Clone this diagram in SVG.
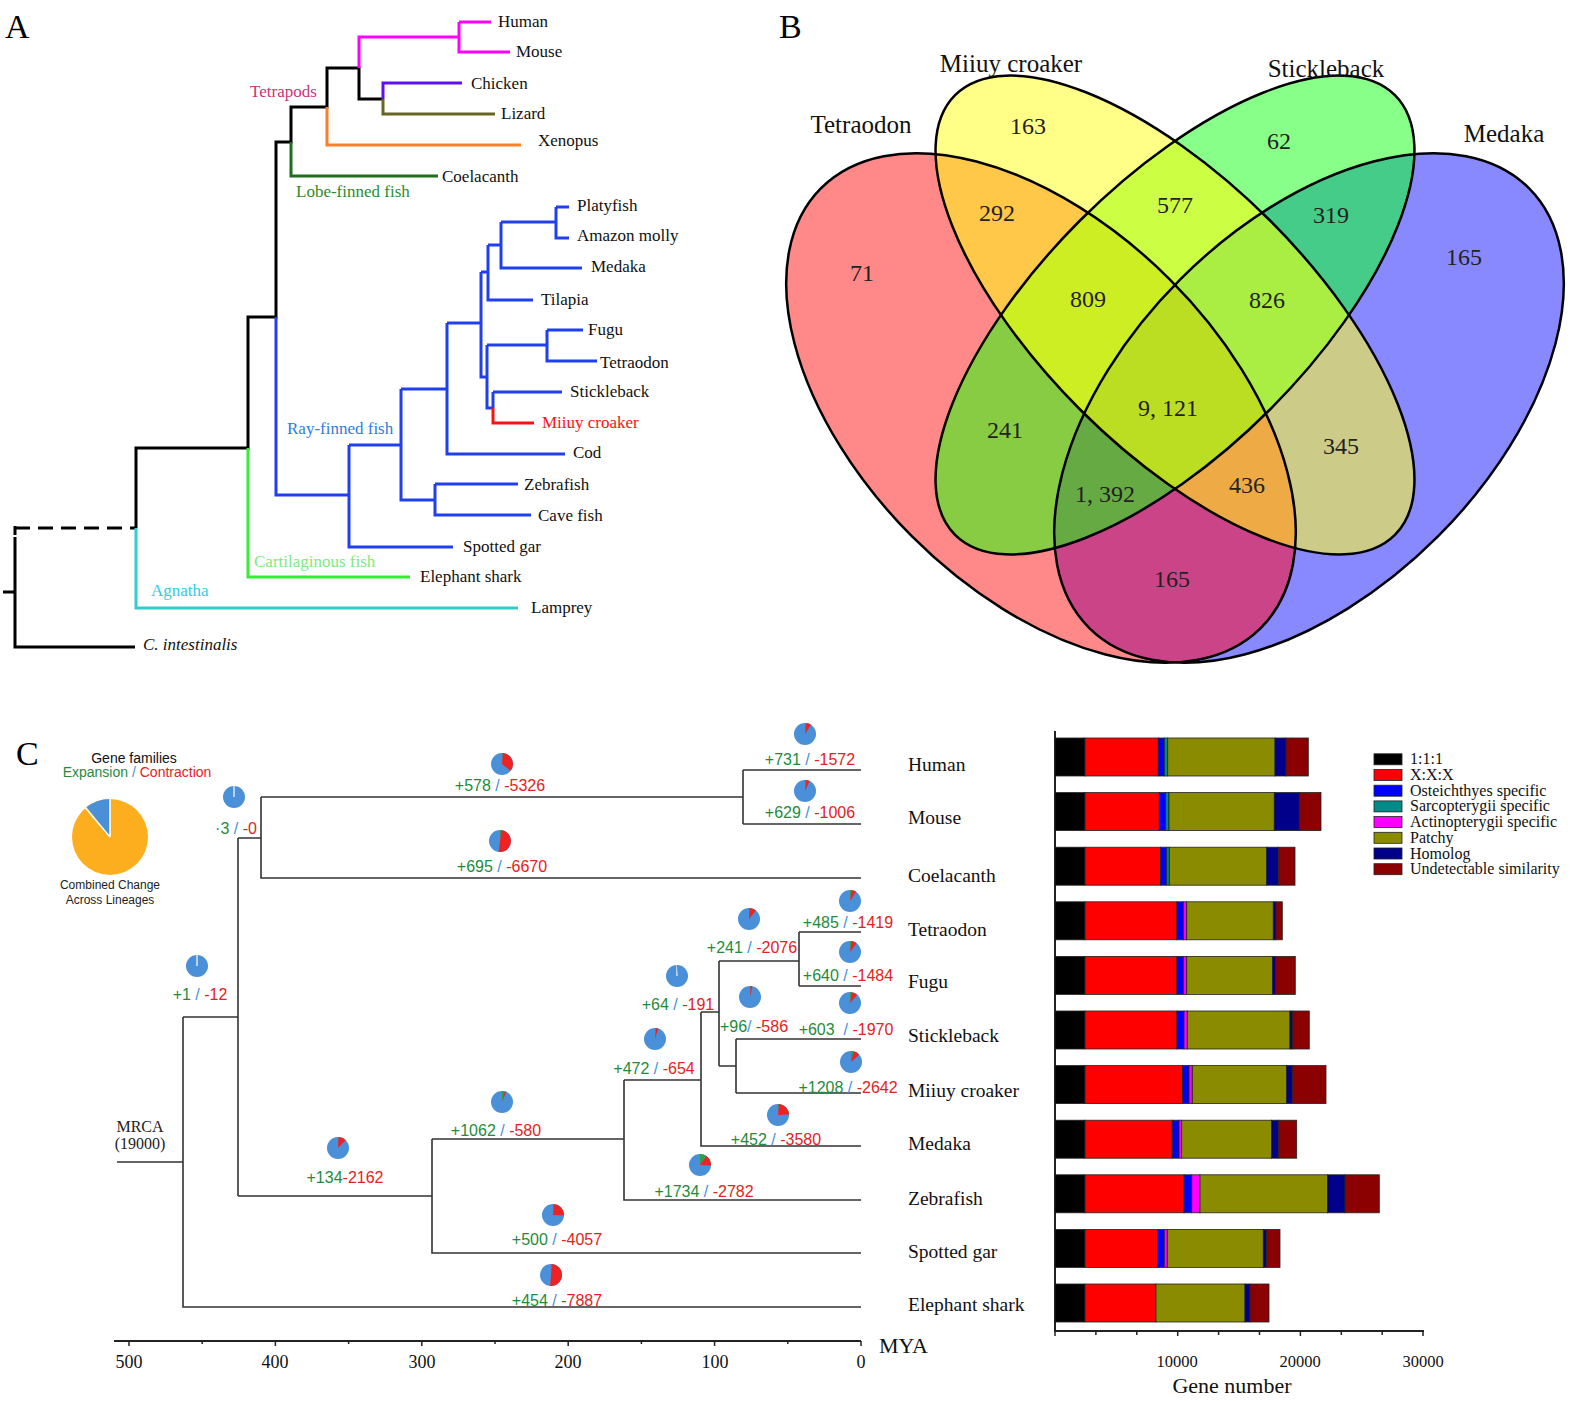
<svg xmlns="http://www.w3.org/2000/svg" width="1575" height="1401" viewBox="0 0 1575 1401">
<style>
.sr{font-family:"Liberation Serif","Times New Roman",serif}
.ss{font-family:"Liberation Sans",Arial,sans-serif}
.tl{fill:none;stroke:#333;stroke-width:1.6}
.vo{fill:none;stroke:#000;stroke-width:2.5}
.pb{fill:#4A90D9}
.pg{fill:none;stroke:#2E9E4A;stroke-width:11}
.pr{fill:none;stroke:#EE2222;stroke-width:11}
.pw{stroke:#fff;stroke-width:1.2}
.an{font-family:"Liberation Sans",Arial,sans-serif;font-size:16px;text-anchor:middle}
.g{fill:#1E8C3C}.sl{fill:#4A90D9}.rd{fill:#E52222}
.lf{font-family:"Liberation Serif","Times New Roman",serif;font-size:19.5px;fill:#111}
.la{font-family:"Liberation Serif","Times New Roman",serif;font-size:17px;fill:#111}
.vn{font-family:"Liberation Serif","Times New Roman",serif;font-size:24px;text-anchor:middle;fill:#222}
.vs{font-family:"Liberation Serif","Times New Roman",serif;font-size:25px;text-anchor:middle;fill:#111}
.seg{stroke:#222;stroke-width:0.8}
.K{fill:#000}.R{fill:#FF0000}.B{fill:#0000FF}.T{fill:#008B8B}.M{fill:#FF00FF}.O{fill:#8B8B00}.N{fill:#00008B}.D{fill:#8B0000}
.ax{font-family:"Liberation Serif","Times New Roman",serif;font-size:18px;text-anchor:middle;fill:#111}
.lg{font-family:"Liberation Serif","Times New Roman",serif;font-size:16px;fill:#111}
</style>
<defs>
<ellipse id="eA" rx="311" ry="182" transform="translate(1041,408) rotate(45)"/>
<ellipse id="eB" rx="311" ry="134" transform="translate(1175,315) rotate(45)"/>
<ellipse id="eC" rx="311" ry="134" transform="translate(1175,315) rotate(-45)"/>
<ellipse id="eD" rx="311" ry="182" transform="translate(1309,408) rotate(-45)"/>
<clipPath id="cA"><use href="#eA"/></clipPath>
<clipPath id="cB"><use href="#eB"/></clipPath>
<clipPath id="cC"><use href="#eC"/></clipPath>
</defs>
<rect width="1575" height="1401" fill="#fff"/>

<!-- ================= PANEL A ================= -->
<g id="panelA">
<text class="sr" x="5" y="38" font-size="34">A</text>
<g id="A-connectors" fill="none" stroke-width="3">
<path stroke="#000" d="M3,592H15 M15,537V647H135 M15,535V526 M136,528V448H248V317H276V142H291V107H327V68H359V99H383"/>
<path stroke="#000" stroke-dasharray="15 8" d="M15,528H136"/>
<path stroke="#33CCCC" d="M136,528V608H518"/>
<path stroke="#33EE33" d="M248,448V577H410"/>
<path stroke="#1E6E1E" d="M291,142V176H438"/>
<path stroke="#F98028" d="M327,107V145H521"/>
<path stroke="#FF00FF" d="M359,68V37H459 M459,22V52H510 M459,22H491"/>
<path stroke="#6010F0" d="M383,99V83H462"/>
<path stroke="#666622" d="M383,99V114H495"/>
<path stroke="#2040F0" d="M276,317V495H349 M349,445V547H453 M349,445H401 M401,389V500H435 M435,484V515H531 M435,484H518 M401,389H447 M447,323V454H565 M447,323H481 M481,272V377H487 M487,345V408H493 M493,392V408 M493,392H562 M487,345H547 M547,330V361H597 M547,330H583 M481,272H488 M488,245V300H533 M488,245H501 M501,222V268H582 M501,222H556 M556,207V238H569 M556,207H569"/>
<path stroke="#FF1010" d="M493,408V423H534"/>
</g>
<g id="A-clades">
<text class="la" x="250" y="97" fill="#CC3377" style="fill:#CC3377">Tetrapods</text>
<text class="la" x="296" y="197" style="fill:#2E8B2E">Lobe-finned fish</text>
<text class="la" x="287" y="434" style="fill:#2A7FE0">Ray-finned fish</text>
<text class="la" x="254" y="567" style="fill:#7CEB7C">Cartilaginous fish</text>
<text class="la" x="151" y="596" style="fill:#33CCDD">Agnatha</text>
</g>
<g id="a-human"><text class="la" x="498" y="27">Human</text></g>
<g id="a-mouse"><text class="la" x="516" y="57">Mouse</text></g>
<g id="a-chicken"><text class="la" x="471" y="89">Chicken</text></g>
<g id="a-lizard"><text class="la" x="501" y="119">Lizard</text></g>
<g id="a-xenopus"><text class="la" x="538" y="146">Xenopus</text></g>
<g id="a-coelacanth"><text class="la" x="442" y="182">Coelacanth</text></g>
<g id="a-platyfish"><text class="la" x="577" y="211">Platyfish</text></g>
<g id="a-amazon"><text class="la" x="577" y="241">Amazon molly</text></g>
<g id="a-medaka"><text class="la" x="591" y="272">Medaka</text></g>
<g id="a-tilapia"><text class="la" x="541" y="305">Tilapia</text></g>
<g id="a-fugu"><text class="la" x="588" y="335">Fugu</text></g>
<g id="a-tetraodon"><text class="la" x="600" y="368">Tetraodon</text></g>
<g id="a-stickleback"><text class="la" x="570" y="397">Stickleback</text></g>
<g id="a-miiuy"><text class="la" x="542" y="428" style="fill:#FF1010">Miiuy croaker</text></g>
<g id="a-cod"><text class="la" x="573" y="458">Cod</text></g>
<g id="a-zebrafish"><text class="la" x="524" y="490">Zebrafish</text></g>
<g id="a-cavefish"><text class="la" x="538" y="521">Cave fish</text></g>
<g id="a-spottedgar"><text class="la" x="463" y="552">Spotted gar</text></g>
<g id="a-elephantshark"><text class="la" x="420" y="582">Elephant shark</text></g>
<g id="a-lamprey"><text class="la" x="531" y="613">Lamprey</text></g>
<g id="a-ciona"><text class="la" x="143" y="650" font-style="italic">C. intestinalis</text></g>
</g>

<!-- ================= PANEL B ================= -->
<g id="panelB">
<text class="sr" x="779" y="38" font-size="34">B</text>
<g id="venn-regions">
<use href="#eA" fill="#FF8888"/>
<use href="#eD" fill="#8888FF"/>
<use href="#eB" fill="#FFFF88"/>
<use href="#eC" fill="#88FF88"/>
<g clip-path="url(#cA)"><use href="#eB" fill="#FFC848"/><use href="#eC" fill="#88CC44"/><use href="#eD" fill="#CC4488"/></g>
<g clip-path="url(#cB)"><use href="#eC" fill="#CCFF44"/><use href="#eD" fill="#CCCC88"/></g>
<g clip-path="url(#cC)"><use href="#eD" fill="#44CC88"/></g>
<g clip-path="url(#cA)"><g clip-path="url(#cB)"><use href="#eC" fill="#CCEE22"/><use href="#eD" fill="#EEAA44"/></g><g clip-path="url(#cC)"><use href="#eD" fill="#66AA44"/></g></g>
<g clip-path="url(#cB)"><g clip-path="url(#cC)"><use href="#eD" fill="#AAEE44"/></g></g>
<g clip-path="url(#cA)"><g clip-path="url(#cB)"><g clip-path="url(#cC)"><use href="#eD" fill="#BBDD22"/></g></g></g>
<use href="#eA" class="vo"/>
<use href="#eB" class="vo"/>
<use href="#eC" class="vo"/>
<use href="#eD" class="vo"/>
</g>
<g id="set-tetraodon"><text class="vs" x="861" y="133">Tetraodon</text></g>
<g id="set-miiuy"><text class="vs" x="1011" y="72">Miiuy croaker</text></g>
<g id="set-stickleback"><text class="vs" x="1326" y="77">Stickleback</text></g>
<g id="set-medaka"><text class="vs" x="1504" y="142">Medaka</text></g>
<g id="venn-counts">
<text class="vn" x="1028" y="134">163</text>
<text class="vn" x="1279" y="149">62</text>
<text class="vn" x="862" y="281">71</text>
<text class="vn" x="1464" y="265">165</text>
<text class="vn" x="997" y="221">292</text>
<text class="vn" x="1175" y="213">577</text>
<text class="vn" x="1331" y="223">319</text>
<text class="vn" x="1088" y="307">809</text>
<text class="vn" x="1267" y="308">826</text>
<text class="vn" x="1168" y="416">9, 121</text>
<text class="vn" x="1005" y="438">241</text>
<text class="vn" x="1341" y="454">345</text>
<text class="vn" x="1105" y="502">1, 392</text>
<text class="vn" x="1247" y="493">436</text>
<text class="vn" x="1172" y="587">165</text>
</g>
</g>

<!-- ================= PANEL C ================= -->
<g id="panelC">
<text class="sr" x="16" y="765" font-size="34">C</text>
<g id="legend-pie">
<text class="ss" x="134" y="763" font-size="14" text-anchor="middle" fill="#111">Gene families</text>
<text class="ss" x="137" y="777" font-size="14" text-anchor="middle"><tspan class="g">Expansion</tspan><tspan class="sl"> / </tspan><tspan class="rd">Contraction</tspan></text>
<g transform="translate(110,837) rotate(-90)">
<circle r="38" fill="#FDAE1F"/>
<circle r="19" fill="none" stroke="#4A90D9" stroke-width="38" stroke-dasharray="0 106.1 13.27 200"/>
<path d="M0,0L38,0M0,0L29.1,-24.4" stroke="#fff" stroke-width="1.5"/>
</g>
<text class="ss" x="110" y="889" font-size="12" text-anchor="middle" fill="#222">Combined Change</text>
<text class="ss" x="110" y="904" font-size="12" text-anchor="middle" fill="#222">Across Lineages</text>
</g>

<g id="C-connectors">
<path class="tl" d="M117,1162H183 M183,1017V1307H861 M183,1017H238 M238,838V1196 M238,838H261 M261,797V878H861 M261,797H743 M743,770V824 M743,770H861 M743,824H861 M238,1196H432 M432,1139V1253H861 M432,1139H624 M624,1080V1200H861 M624,1080H701 M701,1012V1146H861 M701,1012H719 M719,961V1066 M719,961H799 M799,932V986 M799,932H861 M799,986H861 M719,1066H736 M736,1039V1093 M736,1039H861 M736,1093H861"/>
</g>

<g id="mrca">
<text class="sr" x="140" y="1132" font-size="16" text-anchor="middle" fill="#222">MRCA</text>
<text class="sr" x="140" y="1149" font-size="16" text-anchor="middle" fill="#222">(19000)</text>
</g>

<g id="time-axis">
<path d="M114,1341H861" stroke="#222" stroke-width="2" fill="none"/>
<path d="M861,1341v5M714.6,1341v5M568.2,1341v5M421.8,1341v5M275.4,1341v5M129,1341v5M787.8,1341v3M641.4,1341v3M495,1341v3M348.6,1341v3M202.2,1341v3" stroke="#222" stroke-width="1.5"/>
<text class="ax" x="129" y="1368">500</text>
<text class="ax" x="275" y="1368">400</text>
<text class="ax" x="422" y="1368">300</text>
<text class="ax" x="568" y="1368">200</text>
<text class="ax" x="715" y="1368">100</text>
<text class="ax" x="861" y="1368">0</text>
<text class="sr" x="879" y="1353" font-size="22" fill="#111">MYA</text>
</g>

<g id="C-leaves">
<g id="c-human"><text class="lf" x="908" y="771">Human</text></g>
<g id="c-mouse"><text class="lf" x="908" y="824">Mouse</text></g>
<g id="c-coelacanth"><text class="lf" x="908" y="882">Coelacanth</text></g>
<g id="c-tetraodon"><text class="lf" x="908" y="936">Tetraodon</text></g>
<g id="c-fugu"><text class="lf" x="908" y="988">Fugu</text></g>
<g id="c-stickleback"><text class="lf" x="908" y="1042">Stickleback</text></g>
<g id="c-miiuy"><text class="lf" x="908" y="1097">Miiuy croaker</text></g>
<g id="c-medaka"><text class="lf" x="908" y="1150">Medaka</text></g>
<g id="c-zebrafish"><text class="lf" x="908" y="1205">Zebrafish</text></g>
<g id="c-spottedgar"><text class="lf" x="908" y="1258">Spotted gar</text></g>
<g id="c-elephantshark"><text class="lf" x="908" y="1311">Elephant shark</text></g>
</g>

<g id="C-annotations">
<g id="an-human"><g transform="translate(805,734) rotate(-90)"><circle r="11" class="pb"/><circle r="5.5" class="pg" stroke-dasharray="0.77 40"/><circle r="5.5" class="pr" stroke-dasharray="0 0.77 2.4 40"/></g>
<text class="an" x="810" y="765"><tspan class="g">+731</tspan><tspan class="sl"> / </tspan><tspan class="rd">-1572</tspan></text></g>
<g id="an-mouse"><g transform="translate(805,791) rotate(-90)"><circle r="11" class="pb"/><circle r="5.5" class="pg" stroke-dasharray="0.48 40"/><circle r="5.5" class="pr" stroke-dasharray="0 0.48 1.92 40"/></g>
<text class="an" x="810" y="818"><tspan class="g">+629</tspan><tspan class="sl"> / </tspan><tspan class="rd">-1006</tspan></text></g>
<g id="an-mammal"><g transform="translate(502,764) rotate(-90)"><circle r="11" class="pb"/><circle r="5.5" class="pg" stroke-dasharray="0.48 40"/><circle r="5.5" class="pr" stroke-dasharray="0 0.48 11.52 40"/></g>
<text class="an" x="500" y="791"><tspan class="g">+578</tspan><tspan class="sl"> / </tspan><tspan class="rd">-5326</tspan></text></g>
<g id="an-coelacanth"><g transform="translate(500,841) rotate(-90)"><circle r="11" class="pb"/><circle r="5.5" class="pg" stroke-dasharray="0.77 40"/><circle r="5.5" class="pr" stroke-dasharray="0 0.77 16.8 40"/></g>
<text class="an" x="502" y="872"><tspan class="g">+695</tspan><tspan class="sl"> / </tspan><tspan class="rd">-6670</tspan></text></g>
<g id="an-sarco"><g transform="translate(234,797) rotate(-90)"><circle r="11" class="pb"/><path class="pw" d="M0,0H11"/></g>
<text class="an" x="236" y="834"><tspan class="g">·3</tspan><tspan class="sl"> / </tspan><tspan class="rd">-0</tspan></text></g>
<g id="an-osteich"><g transform="translate(197,966) rotate(-90)"><circle r="11" class="pb"/><path class="pw" d="M0,0H11"/></g>
<text class="an" x="200" y="1000"><tspan class="g">+1</tspan><tspan class="sl"> / </tspan><tspan class="rd">-12</tspan></text></g>
<g id="an-tetraodon"><g transform="translate(850,901) rotate(-90)"><circle r="11" class="pb"/><circle r="5.5" class="pg" stroke-dasharray="0.77 40"/><circle r="5.5" class="pr" stroke-dasharray="0 0.77 2.4 40"/></g>
<text class="an" x="848" y="928"><tspan class="g">+485</tspan><tspan class="sl"> / </tspan><tspan class="rd">-1419</tspan></text></g>
<g id="an-fugu"><g transform="translate(850,952) rotate(-90)"><circle r="11" class="pb"/><circle r="5.5" class="pg" stroke-dasharray="0.77 40"/><circle r="5.5" class="pr" stroke-dasharray="0 0.77 2.69 40"/></g>
<text class="an" x="848" y="981"><tspan class="g">+640</tspan><tspan class="sl"> / </tspan><tspan class="rd">-1484</tspan></text></g>
<g id="an-puffer"><g transform="translate(749,919) rotate(-90)"><circle r="11" class="pb"/><circle r="5.5" class="pg" stroke-dasharray="0.29 40"/><circle r="5.5" class="pr" stroke-dasharray="0 0.29 3.36 40"/></g>
<text class="an" x="752" y="953"><tspan class="g">+241</tspan><tspan class="sl"> / </tspan><tspan class="rd">-2076</tspan></text></g>
<g id="an-n719"><g transform="translate(677,976) rotate(-90)"><circle r="11" class="pb"/><path class="pw" d="M0,0H11"/><circle r="5.5" class="pg" stroke-dasharray="0.19 40"/><circle r="5.5" class="pr" stroke-dasharray="0 0.19 0.38 40"/></g>
<text class="an" x="678" y="1010"><tspan class="g">+64</tspan><tspan class="sl"> / </tspan><tspan class="rd">-191</tspan></text></g>
<g id="an-n736"><g transform="translate(750,997) rotate(-90)"><circle r="11" class="pb"/><circle r="5.5" class="pg" stroke-dasharray="0.29 40"/><circle r="5.5" class="pr" stroke-dasharray="0 0.29 0.96 40"/></g>
<text class="an" x="754" y="1032"><tspan class="g">+96</tspan><tspan class="sl">/ </tspan><tspan class="rd">-586</tspan></text></g>
<g id="an-stickleback"><g transform="translate(850,1003) rotate(-90)"><circle r="11" class="pb"/><circle r="5.5" class="pg" stroke-dasharray="0.96 40"/><circle r="5.5" class="pr" stroke-dasharray="0 0.96 2.88 40"/></g>
<text class="an" x="846" y="1035"><tspan class="g">+603</tspan><tspan class="sl">&#160; / </tspan><tspan class="rd">-1970</tspan></text></g>
<g id="an-n701"><g transform="translate(655,1039) rotate(-90)"><circle r="11" class="pb"/><circle r="5.5" class="pg" stroke-dasharray="0.58 40"/><circle r="5.5" class="pr" stroke-dasharray="0 0.58 1.15 40"/></g>
<text class="an" x="654" y="1074"><tspan class="g">+472</tspan><tspan class="sl"> / </tspan><tspan class="rd">-654</tspan></text></g>
<g id="an-miiuy"><g transform="translate(851,1062) rotate(-90)"><circle r="11" class="pb"/><circle r="5.5" class="pg" stroke-dasharray="1.44 40"/><circle r="5.5" class="pr" stroke-dasharray="0 1.44 3.07 40"/></g>
<text class="an" x="848" y="1093"><tspan class="g">+1208</tspan><tspan class="sl"> / </tspan><tspan class="rd">-2642</tspan></text></g>
<g id="an-n624"><g transform="translate(502,1102) rotate(-90)"><circle r="11" class="pb"/><circle r="5.5" class="pg" stroke-dasharray="1.44 40"/><circle r="5.5" class="pr" stroke-dasharray="0 1.44 0.77 40"/></g>
<text class="an" x="496" y="1136"><tspan class="g">+1062</tspan><tspan class="sl"> / </tspan><tspan class="rd">-580</tspan></text></g>
<g id="an-medaka"><g transform="translate(778,1115) rotate(-90)"><circle r="11" class="pb"/><circle r="5.5" class="pg" stroke-dasharray="0.48 40"/><circle r="5.5" class="pr" stroke-dasharray="0 0.48 7.68 40"/></g>
<text class="an" x="776" y="1145"><tspan class="g">+452</tspan><tspan class="sl"> / </tspan><tspan class="rd">-3580</tspan></text></g>
<g id="an-n432"><g transform="translate(338,1148) rotate(-90)"><circle r="11" class="pb"/><circle r="5.5" class="pg" stroke-dasharray="0.29 40"/><circle r="5.5" class="pr" stroke-dasharray="0 0.29 3.84 40"/></g>
<text class="an" x="345" y="1183"><tspan class="g">+134</tspan><tspan class="rd">-2162</tspan></text></g>
<g id="an-zebrafish"><g transform="translate(700,1165) rotate(-90)"><circle r="11" class="pb"/><circle r="5.5" class="pg" stroke-dasharray="3.36 40"/><circle r="5.5" class="pr" stroke-dasharray="0 3.36 5.28 40"/></g>
<text class="an" x="704" y="1197"><tspan class="g">+1734</tspan><tspan class="sl"> / </tspan><tspan class="rd">-2782</tspan></text></g>
<g id="an-spottedgar"><g transform="translate(553,1215) rotate(-90)"><circle r="11" class="pb"/><circle r="5.5" class="pg" stroke-dasharray="0.48 40"/><circle r="5.5" class="pr" stroke-dasharray="0 0.48 8.16 40"/></g>
<text class="an" x="557" y="1245"><tspan class="g">+500</tspan><tspan class="sl"> / </tspan><tspan class="rd">-4057</tspan></text></g>
<g id="an-elephantshark"><g transform="translate(551,1275) rotate(-90)"><circle r="11" class="pb"/><circle r="5.5" class="pg" stroke-dasharray="0.48 40"/><circle r="5.5" class="pr" stroke-dasharray="0 0.48 16.8 40"/></g>
<text class="an" x="557" y="1306"><tspan class="g">+454</tspan><tspan class="sl"> / </tspan><tspan class="rd">-7887</tspan></text></g>
</g>

<g id="bar-chart">
<g id="bar-axes" stroke="#222" fill="none">
<path d="M1055,731V1331H1424" stroke-width="2"/>
<path d="M1055,1331v5M1095.9,1331v4M1136.8,1331v4M1177.7,1331v5M1218.6,1331v4M1259.5,1331v4M1300.4,1331v5M1341.3,1331v4M1382.2,1331v4M1423,1331v5" stroke-width="1.5"/>
</g>
<g id="bar-human" class="seg"><rect class="K" x="1055" y="738" width="30" height="38"/><rect class="R" x="1085" y="738" width="73.3" height="38"/><rect class="B" x="1158.3" y="738" width="6" height="38"/><rect class="T" x="1164.3" y="738" width="3.4" height="38"/><rect class="O" x="1167.7" y="738" width="107.3" height="38"/><rect class="N" x="1275" y="738" width="11" height="38"/><rect class="D" x="1286" y="738" width="22.3" height="38"/></g>
<g id="bar-mouse" class="seg"><rect class="K" x="1055" y="792.6" width="30" height="38"/><rect class="R" x="1085" y="792.6" width="74.3" height="38"/><rect class="B" x="1159.3" y="792.6" width="6.4" height="38"/><rect class="T" x="1165.7" y="792.6" width="3.3" height="38"/><rect class="O" x="1169" y="792.6" width="105.3" height="38"/><rect class="N" x="1274.3" y="792.6" width="25" height="38"/><rect class="D" x="1299.3" y="792.6" width="21.7" height="38"/></g>
<g id="bar-coelacanth" class="seg"><rect class="K" x="1055" y="847.2" width="30" height="38"/><rect class="R" x="1085" y="847.2" width="75.7" height="38"/><rect class="B" x="1160.7" y="847.2" width="6" height="38"/><rect class="T" x="1166.7" y="847.2" width="2.6" height="38"/><rect class="O" x="1169.3" y="847.2" width="97.4" height="38"/><rect class="N" x="1266.7" y="847.2" width="11.6" height="38"/><rect class="D" x="1278.3" y="847.2" width="16.7" height="38"/></g>
<g id="bar-tetraodon" class="seg"><rect class="K" x="1055" y="901.8" width="30" height="38"/><rect class="R" x="1085" y="901.8" width="92" height="38"/><rect class="B" x="1177" y="901.8" width="6.3" height="38"/><rect class="M" x="1183.3" y="901.8" width="3.4" height="38"/><rect class="O" x="1186.7" y="901.8" width="86.6" height="38"/><rect class="N" x="1273.3" y="901.8" width="2.7" height="38"/><rect class="D" x="1276" y="901.8" width="6.3" height="38"/></g>
<g id="bar-fugu" class="seg"><rect class="K" x="1055" y="956.4" width="30" height="38"/><rect class="R" x="1085" y="956.4" width="92" height="38"/><rect class="B" x="1177" y="956.4" width="6.3" height="38"/><rect class="M" x="1183.3" y="956.4" width="3.4" height="38"/><rect class="O" x="1186.7" y="956.4" width="86" height="38"/><rect class="N" x="1272.7" y="956.4" width="3" height="38"/><rect class="D" x="1275.7" y="956.4" width="19.6" height="38"/></g>
<g id="bar-stickleback" class="seg"><rect class="K" x="1055" y="1011" width="30" height="38"/><rect class="R" x="1085" y="1011" width="92" height="38"/><rect class="B" x="1177" y="1011" width="7" height="38"/><rect class="M" x="1184" y="1011" width="3.3" height="38"/><rect class="O" x="1187.3" y="1011" width="102.7" height="38"/><rect class="N" x="1290" y="1011" width="2.7" height="38"/><rect class="D" x="1292.7" y="1011" width="16.6" height="38"/></g>
<g id="bar-miiuy" class="seg"><rect class="K" x="1055" y="1065.6" width="30" height="38"/><rect class="R" x="1085" y="1065.6" width="97.7" height="38"/><rect class="B" x="1182.7" y="1065.6" width="6.3" height="38"/><rect class="M" x="1189" y="1065.6" width="3.3" height="38"/><rect class="O" x="1192.3" y="1065.6" width="94.4" height="38"/><rect class="N" x="1286.7" y="1065.6" width="5.6" height="38"/><rect class="D" x="1292.3" y="1065.6" width="33.7" height="38"/></g>
<g id="bar-medaka" class="seg"><rect class="K" x="1055" y="1120.2" width="30" height="38"/><rect class="R" x="1085" y="1120.2" width="87.3" height="38"/><rect class="B" x="1172.3" y="1120.2" width="6.7" height="38"/><rect class="M" x="1179" y="1120.2" width="2.7" height="38"/><rect class="O" x="1181.7" y="1120.2" width="90" height="38"/><rect class="N" x="1271.7" y="1120.2" width="6.6" height="38"/><rect class="D" x="1278.3" y="1120.2" width="18.4" height="38"/></g>
<g id="bar-zebrafish" class="seg"><rect class="K" x="1055" y="1174.8" width="30" height="38"/><rect class="R" x="1085" y="1174.8" width="99" height="38"/><rect class="B" x="1184" y="1174.8" width="7.7" height="38"/><rect class="M" x="1191.7" y="1174.8" width="8.3" height="38"/><rect class="O" x="1200" y="1174.8" width="127.7" height="38"/><rect class="N" x="1327.7" y="1174.8" width="17.3" height="38"/><rect class="D" x="1345" y="1174.8" width="34.3" height="38"/></g>
<g id="bar-spottedgar" class="seg"><rect class="K" x="1055" y="1229.4" width="30" height="38"/><rect class="R" x="1085" y="1229.4" width="72.7" height="38"/><rect class="B" x="1157.7" y="1229.4" width="6.6" height="38"/><rect class="M" x="1164.3" y="1229.4" width="3" height="38"/><rect class="O" x="1167.3" y="1229.4" width="96" height="38"/><rect class="N" x="1263.3" y="1229.4" width="3.4" height="38"/><rect class="D" x="1266.7" y="1229.4" width="13.3" height="38"/></g>
<g id="bar-elephantshark" class="seg"><rect class="K" x="1055" y="1284" width="30" height="38"/><rect class="R" x="1085" y="1284" width="71" height="38"/><rect class="O" x="1156" y="1284" width="89" height="38"/><rect class="N" x="1245" y="1284" width="5" height="38"/><rect class="D" x="1250" y="1284" width="19" height="38"/></g>
<g id="bar-ticklabels">
<text class="sr" x="1177" y="1367" font-size="16.5" text-anchor="middle" fill="#111">10000</text>
<text class="sr" x="1300" y="1367" font-size="16.5" text-anchor="middle" fill="#111">20000</text>
<text class="sr" x="1423" y="1367" font-size="16.5" text-anchor="middle" fill="#111">30000</text>
<text class="sr" x="1232" y="1393" font-size="22" text-anchor="middle" fill="#111">Gene number</text>
</g>
<g id="bar-legend" class="seg">
<rect class="K" x="1374" y="753.8" width="28" height="11"/>
<rect class="R" x="1374" y="769.5" width="28" height="11"/>
<rect class="B" x="1374" y="785.2" width="28" height="11"/>
<rect class="T" x="1374" y="800.9" width="28" height="11"/>
<rect class="M" x="1374" y="816.6" width="28" height="11"/>
<rect class="O" x="1374" y="832.3" width="28" height="11"/>
<rect class="N" x="1374" y="848" width="28" height="11"/>
<rect class="D" x="1374" y="863.7" width="28" height="11"/>
</g>
<g id="bar-legend-text">
<text class="lg" x="1410" y="764.3">1:1:1</text>
<text class="lg" x="1410" y="780">X:X:X</text>
<text class="lg" x="1410" y="795.7">Osteichthyes specific</text>
<text class="lg" x="1410" y="811.4">Sarcopterygii specific</text>
<text class="lg" x="1410" y="827.1">Actinopterygii specific</text>
<text class="lg" x="1410" y="842.8">Patchy</text>
<text class="lg" x="1410" y="858.5">Homolog</text>
<text class="lg" x="1410" y="874.2">Undetectable similarity</text>
</g>
</g>
</g>
</svg>
